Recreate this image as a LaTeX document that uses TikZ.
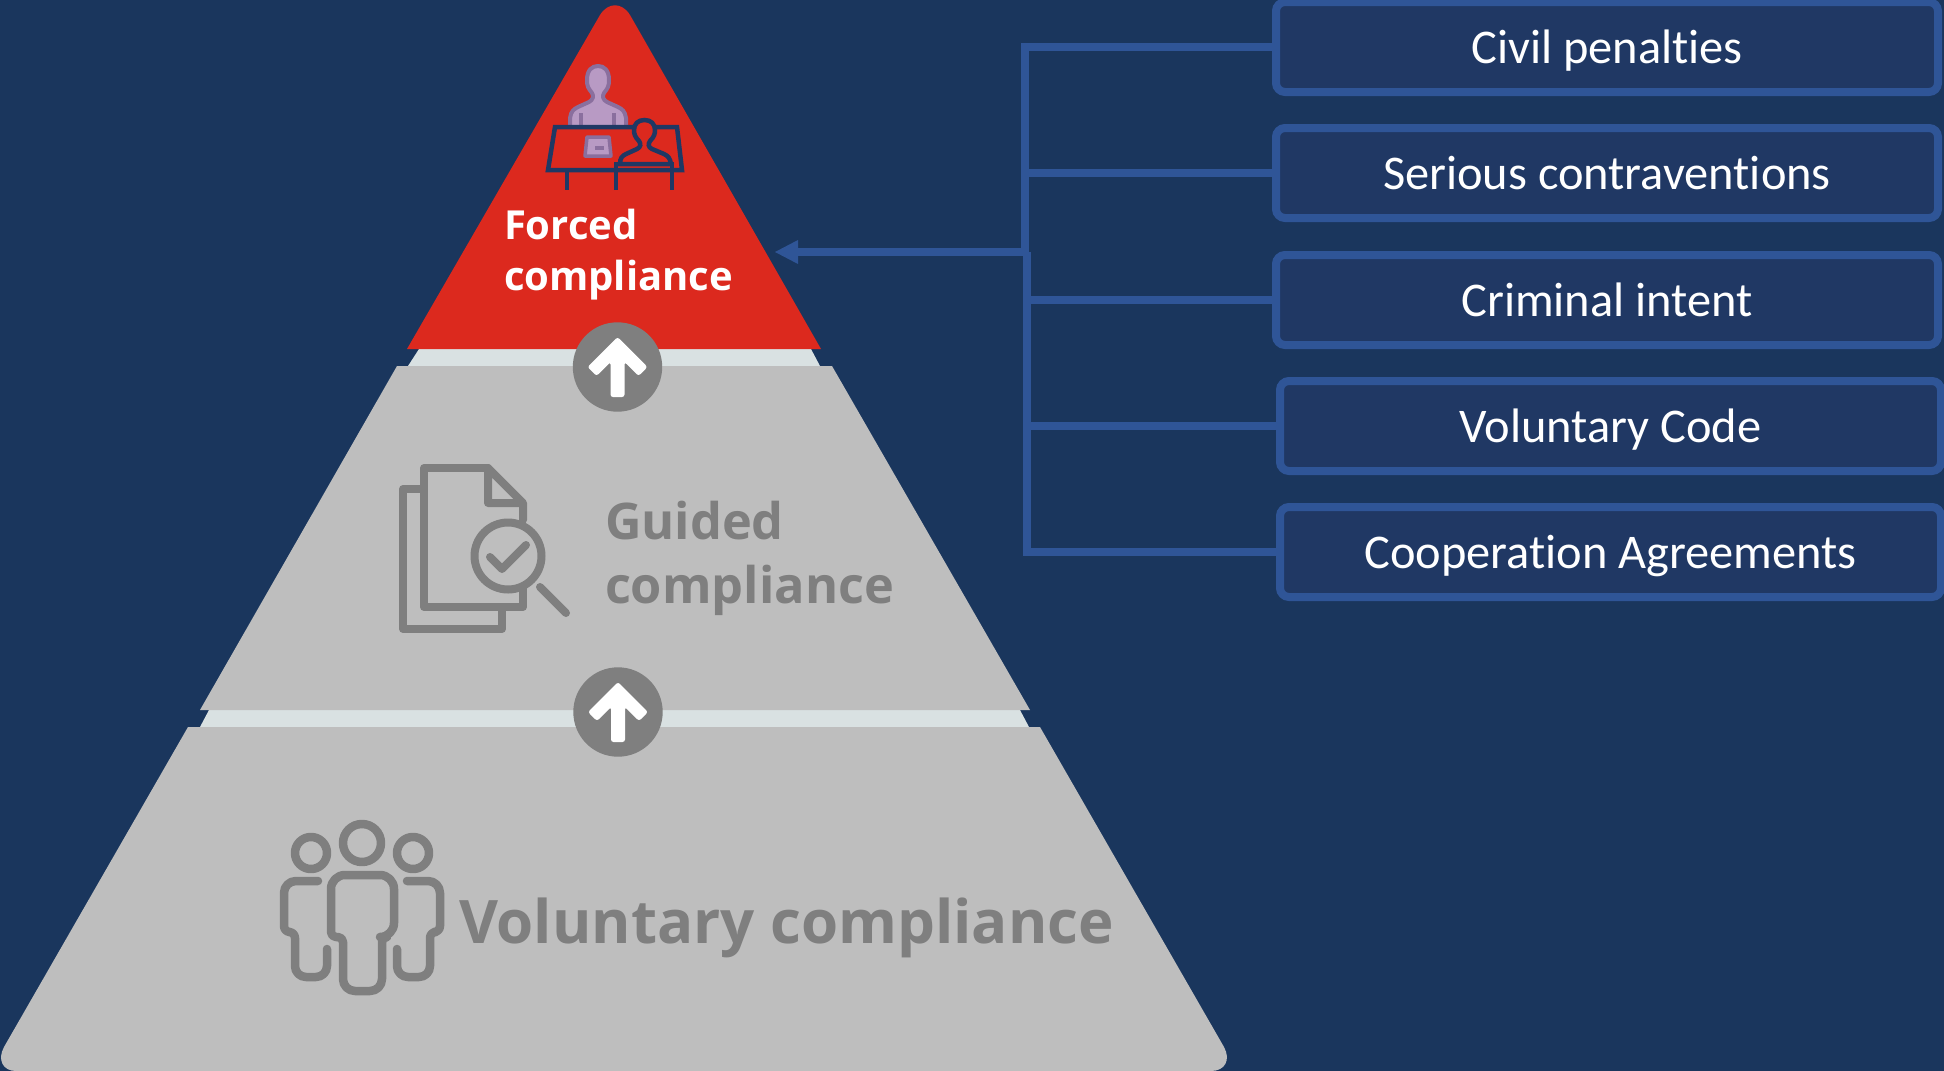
\documentclass[tikz,border=0pt]{standalone}
\usepackage{fontspec}
\setmainfont{Open Sans}
\newfontfamily\boxfont[Ligatures=NoCommon]{Carlito}
\definecolor{bgnavy}{HTML}{1A365D}
\definecolor{redtop}{HTML}{DC291E}
\definecolor{tiergrey}{HTML}{BEBEBE}
\definecolor{iconGrey}{HTML}{7F7F7F}
\definecolor{bandlight}{HTML}{D9E1E2}
\definecolor{boxfill}{HTML}{203864}
\definecolor{boxline}{HTML}{2F5597}
\definecolor{deskline}{HTML}{1F3864}
\definecolor{purplefill}{HTML}{B89AC4}
\definecolor{purpleline}{HTML}{8A6F9E}
\tikzset{
  x=1pt,y=-1pt,
  listbox/.style={draw=boxline,fill=boxfill,line width=8,rounded corners=9,minimum width=#1,minimum height=90,inner sep=0,outer sep=0,text=white,text height=32,text depth=0,font=\boxfont\fontsize{48.4}{50}\selectfont},
  listbox/.default=662,
  conn/.style={draw=boxline,line width=8,line join=miter},
  greyicon/.style={draw=iconGrey,line join=round,line cap=round},
  tiertext/.style={text=iconGrey,inner sep=0,outer sep=0,font=\bfseries\fontsize{#1}{#1}\selectfont},
  desk/.style={draw=deskline,line width=4.5,line join=miter},
  purp/.style={draw=purpleline,fill=purplefill,line width=4,line join=round},
}
\newcommand{\uparrowbadge}[2]{%
  \fill[iconGrey] (#1,#2) circle[radius=44.7];
  \fill[white,rounded corners=2.5] (#1,#2) ++(0,-30) -- ++(30,30) -- ++(-9,9) -- ++(-14,-14) -- ++(0,35) -- ++(-14,0) -- ++(0,-35) -- ++(-14,14) -- ++(-9,-9) -- cycle;
}
\begin{document}
\begin{tikzpicture}
\useasboundingbox (0,0) rectangle (1944,1071);
\fill[bgnavy] (0,0) rectangle (1944,1071);

% light bands
\fill[bandlight] (419,349) -- (811,349) -- (820,366) -- (408,366) -- cycle;
\fill[bandlight] (209,710) -- (1020,710) -- (1029,727) -- (200,727) -- cycle;
% tiers
\fill[redtop] (407,349) -- (600,15) .. controls (608,2) and (622,2) .. (630,15) -- (821,349) -- cycle;
\fill[tiergrey] (397,366) -- (832,366) -- (1030,710) -- (200,710) -- cycle;
\fill[tiergrey] (188,727) -- (1040,727) -- (1224,1047) .. controls (1231,1060) and (1225,1071) .. (1211,1071) -- (16,1071) .. controls (3,1071) and (-3,1060) .. (4,1047) -- cycle;

\uparrowbadge{617.5}{367}
\uparrowbadge{618}{712}

% desk icon: person behind
\path[purp] (570,127) -- (570,118) .. controls (571,111) and (574,109) .. (578,107) -- (589,102) .. controls (593,100) and (594,96) .. (592,93) .. controls (588,88) and (587,86) .. (587,80) .. controls (587,70) and (592,66) .. (598,66) .. controls (604,66) and (609,70) .. (609,80) .. controls (609,86) and (608,88) .. (604,93) .. controls (602,96) and (603,100) .. (607,102) -- (618,107) .. controls (622,109) and (625,111) .. (626,118) -- (626,127);
\draw[purpleline,line width=3.5] (581,113) -- (581,127) (614,113) -- (614,127);
\path[purp,line width=3.5] (587,137) -- (609,137) -- (611,156) -- (585,156) -- cycle;
\draw[purpleline,line width=3.5] (595,148) -- (604,148);
% desk
\draw[desk] (555,127) -- (677,127) -- (682,170) -- (548,170) -- cycle;
\draw[desk] (567,170) -- (567,190);
% person in front
\path[desk,fill=redtop] (620,164) .. controls (620,158) and (622,156) .. (626,154) -- (637,149) .. controls (641,147) and (641,144) .. (639,141) .. controls (635,137) and (634,134) .. (634,130) .. controls (634,124) and (638,120) .. (644.5,120) .. controls (651,120) and (655,124) .. (655,130) .. controls (655,134) and (654,137) .. (650,141) .. controls (648,144) and (648,147) .. (652,149) -- (664,154) .. controls (668,156) and (670,158) .. (671,164) -- cycle;
\draw[desk] (616,190) -- (616,164) -- (672,164) -- (672,190);

% document icon
\draw[greyicon,line width=8] (488,468) -- (424,468) -- (424,607) -- (523,607) -- (523,588);
\draw[greyicon,line width=8] (523,520) -- (523,503) -- (488,468) -- (488,503) -- (523,503);
\draw[greyicon,line width=8] (421,489) -- (403,489) -- (403,629) -- (502,629) -- (502,607);
\draw[greyicon,line width=8] (508,556) circle[radius=33.5];
\draw[greyicon,line width=8] (540,587) -- (566,613);
\draw[greyicon,line width=8] (490,557) -- (502,569) -- (526,545);

% people icon
\draw[greyicon,line width=8.5] (362,843) circle[radius=19];
\draw[greyicon,line width=8.5] (311,853) circle[radius=16];
\draw[greyicon,line width=8.5] (413,853) circle[radius=16];
\draw[greyicon,line width=8.5,rounded corners=5] (362,875) [rounded corners=14] -- (394,875) -- (394,937) [rounded corners=5] -- (382,937) [rounded corners=12] -- (382,991) -- (343,991) [rounded corners=5] -- (343,937) -- (331,937) [rounded corners=14] -- (331,875) -- cycle;
\draw[greyicon,line width=8.5,rounded corners=5] (318,881) [rounded corners=12] -- (284,881) [rounded corners=6] -- (284,932) -- (295,932) [rounded corners=11] -- (295,977) -- (327,977) -- (327,949);
\draw[greyicon,line width=8.5,rounded corners=5] (407,881) [rounded corners=12] -- (440,881) [rounded corners=6] -- (440,932) -- (430,932) [rounded corners=11] -- (430,977) -- (397,977) -- (397,949);

% labels in tiers
\node[anchor=west,align=left,inner sep=0,outer sep=0,text=white,font=\bfseries\fontsize{40}{51}\selectfont] (forced) at (504,255) {Forced\\compliance};
\node[anchor=west,align=left,tiertext=50,font=\bfseries\fontsize{50.5}{64}\selectfont] (guided) at (605,558) {Guided\\compliance};
\node[anchor=base west,tiertext=60] (voluntary) at (459,943) {Voluntary compliance};

% list boxes
\node[listbox] (b1) at (1607,47) {Civil penalties};
\node[listbox] (b2) at (1607,173) {Serious contraventions};
\node[listbox] (b3) at (1607,300) {Criminal intent};
\node[listbox=661] (b4) at (1610.5,426) {Voluntary Code};
\node[listbox=661] (b5) at (1610.5,552) {Cooperation Agreements};

% connectors
\coordinate (upperjoin) at (1025,256);
\coordinate (lowerjoin) at (1027,252);
\coordinate (arrowtip) at (775,252);
\draw[conn] (b1.west) -| (upperjoin);
\draw[conn] (b2.west) -- (b2.west -| upperjoin);
\draw[conn] (b3.west) -- (b3.west -| lowerjoin);
\draw[conn] (b4.west) -- (b4.west -| lowerjoin);
\draw[conn] (b5.west) -| (lowerjoin);
\draw[conn] (1029,252) -- (795,252);
\fill[boxline] (arrowtip) -- (798,240) -- (798,264) -- cycle;
\end{tikzpicture}
\end{document}
